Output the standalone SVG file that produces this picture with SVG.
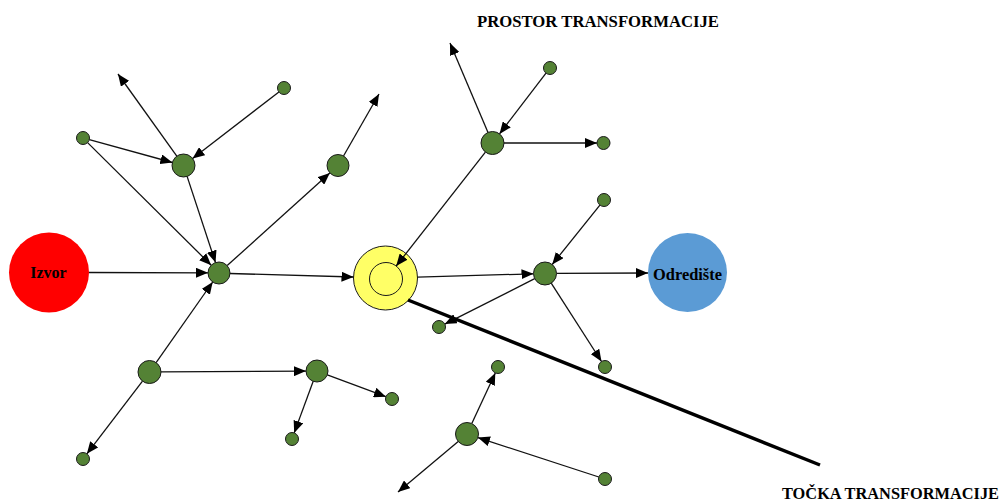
<svg xmlns="http://www.w3.org/2000/svg" width="1003" height="501" viewBox="0 0 1003 501">
<style>
.e{stroke:#111;stroke-width:1.3;fill:none;marker-end:url(#ah)}
.g{fill:#548235;stroke:#1a1a1a;stroke-width:1}
.t{font-family:"Liberation Serif","Times New Roman",serif;font-weight:bold;fill:#000}
</style>
<defs>
<marker id="ah" viewBox="0 0 12 10" refX="12" refY="5" markerWidth="12" markerHeight="10" markerUnits="userSpaceOnUse" orient="auto">
<path d="M0,0 L12,5 L0,10 z" fill="#000"/>
</marker>
</defs>
<rect width="1003" height="501" fill="#fff"/>
<g id="izvor">
<circle cx="49" cy="272.5" r="40" fill="#ff0000"/>
<text class="t" x="48.5" y="278" font-size="16" text-anchor="middle">Izvor</text>
</g>
<g id="odrediste">
<circle cx="687.5" cy="272.5" r="39.5" fill="#5b9bd5"/>
<text class="t" x="687.5" y="280" font-size="16.5" text-anchor="middle" textLength="69" lengthAdjust="spacingAndGlyphs">Odredište</text>
</g>
<g id="tocka">
<circle cx="385.5" cy="278" r="32" fill="#ffff66" stroke="#1a1a1a" stroke-width="1"/>
<circle cx="386" cy="279" r="16.5" fill="#ffff66" stroke="#1a1a1a" stroke-width="1"/>
</g>
<g id="connectors">
<line class="e" x1="89" y1="272.5" x2="208" y2="272.8"/>
<line class="e" x1="230" y1="273.5" x2="353.5" y2="277"/>
<line class="e" x1="187.1" y1="176.4" x2="215.5" y2="262.6"/>
<line class="e" x1="87.6" y1="142.6" x2="211.2" y2="265.2"/>
<line class="e" x1="89.3" y1="139.7" x2="172.4" y2="162.5"/>
<line class="e" x1="278.9" y1="92" x2="192.6" y2="158.5"/>
<line class="e" x1="176.8" y1="156.1" x2="118" y2="74"/>
<line class="e" x1="227.2" y1="265.6" x2="329.8" y2="172.9"/>
<line class="e" x1="343.5" y1="156" x2="379" y2="94"/>
<line class="e" x1="156.1" y1="362.6" x2="212.7" y2="282"/>
<line class="e" x1="161" y1="371.9" x2="306" y2="371.1"/>
<line class="e" x1="142.5" y1="381.1" x2="86.9" y2="453.8"/>
<line class="e" x1="327.3" y1="374.8" x2="385.9" y2="396.7"/>
<line class="e" x1="313.2" y1="381.3" x2="294.2" y2="432.9"/>
<line class="e" x1="485.4" y1="152.1" x2="396.2" y2="266"/>
<line class="e" x1="488" y1="132.4" x2="450" y2="43"/>
<line class="e" x1="546" y1="73.2" x2="499.5" y2="133.9"/>
<line class="e" x1="504" y1="143" x2="597" y2="143"/>
<line class="e" x1="417.5" y1="277.1" x2="533.5" y2="273.8"/>
<line class="e" x1="556.5" y1="273.3" x2="648" y2="273"/>
<line class="e" x1="599.9" y1="205.1" x2="552.2" y2="264.5"/>
<line class="e" x1="534.7" y1="278.7" x2="444.8" y2="324.1"/>
<line class="e" x1="551.2" y1="283.2" x2="601.5" y2="361.5"/>
<line class="e" x1="471.8" y1="423.6" x2="495.3" y2="372.9"/>
<line class="e" x1="598.8" y1="477" x2="477.9" y2="437.6"/>
<line class="e" x1="458.2" y1="441.4" x2="398" y2="492"/>
<line x1="408" y1="300" x2="820" y2="465" stroke="#000" stroke-width="3.5"/>
</g>
<g id="nA"><circle class="g" cx="219" cy="273" r="11"/></g>
<g id="nB"><circle class="g" cx="183.5" cy="165.5" r="11.5"/></g>
<g id="s1"><circle class="g" cx="284" cy="88" r="6.5"/></g>
<g id="s2"><circle class="g" cx="83" cy="138" r="6.5"/></g>
<g id="nC"><circle class="g" cx="338" cy="165.5" r="11"/></g>
<g id="nD"><circle class="g" cx="492.5" cy="143" r="11.5"/></g>
<g id="s3"><circle class="g" cx="550" cy="68" r="6.5"/></g>
<g id="s4"><circle class="g" cx="603.5" cy="143" r="6.5"/></g>
<g id="s5"><circle class="g" cx="604" cy="200" r="6.5"/></g>
<g id="nE"><circle class="g" cx="545" cy="273.5" r="11.5"/></g>
<g id="s6"><circle class="g" cx="439" cy="327" r="6.5"/></g>
<g id="s7"><circle class="g" cx="605" cy="367" r="6.5"/></g>
<g id="s8"><circle class="g" cx="498" cy="367" r="6.5"/></g>
<g id="nF"><circle class="g" cx="467" cy="434" r="11.5"/></g>
<g id="s9"><circle class="g" cx="605" cy="479" r="6.5"/></g>
<g id="nG"><circle class="g" cx="149.5" cy="372" r="11.5"/></g>
<g id="nH"><circle class="g" cx="317" cy="371" r="11"/></g>
<g id="s10"><circle class="g" cx="392" cy="399" r="6.5"/></g>
<g id="s11"><circle class="g" cx="292" cy="439" r="6.5"/></g>
<g id="s12"><circle class="g" cx="83" cy="459" r="6.5"/></g>
<g id="labels">
<text class="t" x="477" y="27" font-size="17" textLength="242" lengthAdjust="spacingAndGlyphs">PROSTOR TRANSFORMACIJE</text>
<text class="t" x="782" y="499" font-size="16.5" textLength="217" lengthAdjust="spacingAndGlyphs">TOČKA TRANSFORMACIJE</text>
</g>
</svg>
